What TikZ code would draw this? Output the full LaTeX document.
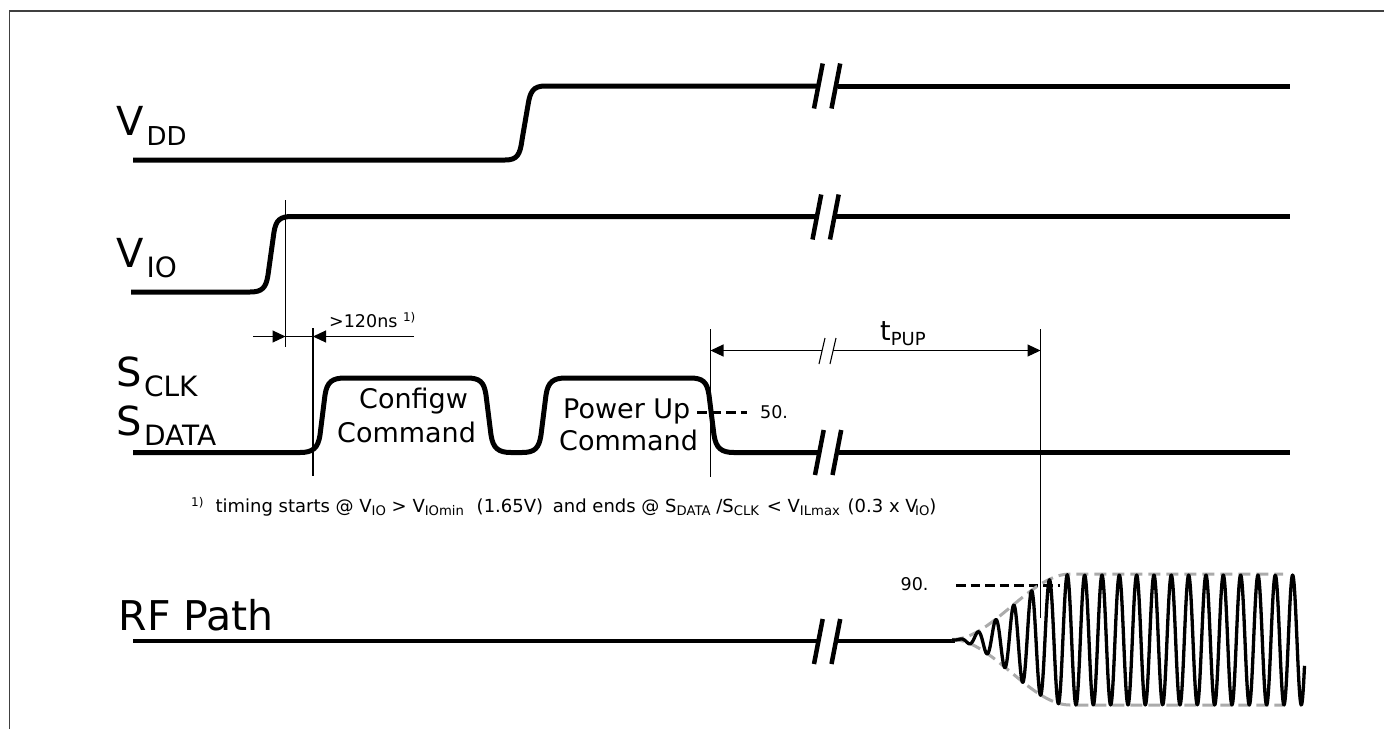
\documentclass[tikz,border=0pt]{standalone}
\usepackage{fontspec}
\setmainfont{DejaVu Sans}
\usetikzlibrary{arrows.meta}
\newcommand{\sigtxt}[3][28]{\fontsize{40}{40}\selectfont #2\hspace{2.5pt}\raisebox{-10.5pt}{\fontsize{#1}{#1}\selectfont #3}}
\newcommand{\smalltxt}{\fontsize{17.5}{20}\selectfont}
\newcommand{\notetxt}{\fontsize{18}{20}\selectfont}
\newcommand{\cmdtxt}{\fontsize{27}{30}\selectfont}
\newcommand{\fnsub}[1]{\raisebox{-3.5pt}{\fontsize{13.2}{14}\selectfont #1}}
\newcommand{\fnsup}{\raisebox{5.5pt}{\fontsize{12}{12}\selectfont 1)}}
\tikzset{
  sigline/.style={line width=5pt},
  breakbar/.style={line width=4.5pt},
  rfline/.style={line width=3.6pt},
  waveline/.style={line width=3.3pt,line join=round},
  envline/.style={line width=3pt,draw=black!33,dash pattern=on 12pt off 6pt},
  levelmark/.style={line width=3pt,dash pattern=on 9.5pt off 5pt},
  dimline/.style={line width=1.1pt},
  dimarrow/.style={line width=1.1pt,-{Triangle[length=13pt,width=12pt]}},
  lbl/.style={inner sep=0pt,anchor=base west},
  declare function={rampt(\p)=(\p-952)/118; rampamp(\p)=65.5*rampt(\p)*rampt(\p)*(3-2*rampt(\p));}
}
\begin{document}
\begin{tikzpicture}[x=1pt,y=-1pt]
\useasboundingbox (0,0) rectangle (1384,729);
\draw[line width=1.4pt,black!75] (9.5,729) -- (9.5,11) -- (1384,11);
% signal names
\node[lbl] (vdd) at (116.5,135) {\sigtxt[26]{V}{DD}};
\node[lbl] (vio) at (116.5,267) {\sigtxt{V}{IO}};
\node[lbl] (sclk) at (116,386) {\sigtxt{S}{CLK}};
\node[lbl] (sdata) at (116,435) {\sigtxt{S}{DATA}};
\node[lbl] (rfpath) at (118.5,630) {\fontsize{41}{41}\selectfont RF Path};
% supply and bus traces
\draw[sigline] (133,160) -- (505,160) .. controls (517,160) and (520,155) .. (522,140) -- (528,105) .. controls (530,92) and (533,86) .. (545,86) -- (817,86);
\draw[sigline] (838,86) -- (1290,86);
\draw[sigline] (131,292) -- (250,292) .. controls (262,292) and (266,288) .. (268,275) -- (274,232) .. controls (276,220) and (280,216.5) .. (292,216.5) -- (815,216.5);
\draw[sigline] (836,216.5) -- (1290,216.5);
\draw[sigline] (133,452.5) -- (300,452.5) .. controls (313,452.5) and (318,448) .. (320,435) -- (325,395) .. controls (327,382) and (332,378) .. (345,378)
  -- (467,378) .. controls (480,378) and (484,382) .. (486,395) -- (491,435) .. controls (493,448) and (498,452.5) .. (511,452.5)
  -- (522,452.5) .. controls (535,452.5) and (539,448) .. (541,435) -- (546,395) .. controls (548,382) and (553,378) .. (566,378)
  -- (690,378) .. controls (703,378) and (707,382) .. (709,395) -- (714,435) .. controls (716,448) and (721,452.5) .. (734,452.5) -- (818,452.5);
\draw[sigline] (839,452.5) -- (1290,452.5);
\draw[rfline] (133,641) -- (817,641);
\draw[rfline] (838,641) -- (955,641);
% break marks
\foreach \bx/\by in {814/86,812.5/217,815/452.5,814/641.5}{
  \draw[breakbar] (\bx,\by+22.5) -- (\bx+8.7,\by-22.5);
  \draw[breakbar] (\bx+17.5,\by+22.5) -- (\bx+26.2,\by-22.5);
}
% command labels
\node[lbl] (cfga) at (359,408) {\cmdtxt Configw};
\node[lbl] (cfgb) at (337,442) {\cmdtxt Command};
\node[lbl] (pwra) at (563,418) {\cmdtxt Power Up};
\node[lbl] (pwrb) at (559,450) {\cmdtxt Command};
% timing marks
\coordinate (t0top) at (285.5,200);
\coordinate (t0bot) at (285.5,347);
\coordinate (t1top) at (313,328);
\coordinate (t1bot) at (313,476);
\coordinate (t2top) at (710.5,329);
\coordinate (t2bot) at (710.5,477);
\coordinate (t3top) at (1040.5,329);
\coordinate (t3bot) at (1040.5,618);
\draw[dimline] (t0top) -- (t0bot);
\draw[dimline] (t1top) -- (t1bot);
\draw[dimline] (t2top) -- (t2bot);
\draw[dimline] (t3top) -- (t3bot);
\coordinate (a0) at (253,336.5);
\coordinate (a1) at (414,336.5);
\draw[dimarrow] (a0) -- (285.5,336.5);
\draw[dimarrow] (a1) -- (313,336.5);
\draw[dimline] (285.5,336.5) -- (313,336.5);
\node[lbl] (minsetup) at (329,327) {\smalltxt >120ns \fnsup};
\coordinate (p0) at (822,350.5);
\coordinate (p1) at (833,350.5);
\draw[dimarrow] (p0) -- (710.5,350.5);
\draw[dimarrow] (p1) -- (1040.5,350.5);
\draw[dimline] (819,364) -- (825,338);
\draw[dimline] (830,364) -- (836,338);
\node[lbl] (tpup) at (880,340) {\fontsize{27}{30}\selectfont t\raisebox{-5pt}{\fontsize{18}{20}\selectfont PUP}};
% footnote
\node[lbl] (note) at (191,512) {\notetxt \fnsup\hspace{12pt}timing starts @ V\fnsub{IO} > V\fnsub{IOmin}\hspace{7pt} (1.65V)\hspace{4pt} and ends @ S\fnsub{DATA} /S\fnsub{CLK}\hspace{2pt} < V\fnsub{ILmax}\hspace{2pt} (0.3 x V\hspace{-2.5pt}\fnsub{IO})};
% levels
\node[lbl] (lev50) at (760,418) {\smalltxt 50.};
\coordinate (m50a) at (697,412);
\coordinate (m50b) at (747,412);
\draw[levelmark] (m50a) -- (m50b);
\node[lbl] (lev90) at (900.5,590) {\smalltxt 90.};
\coordinate (m90a) at (956,585);
\coordinate (m90b) at (1060,585);
\draw[levelmark] (m90a) -- (m90b);
% rf envelope
\draw[envline] plot[domain=952:1070,samples=40] ({\x},{639.5-rampamp(\x)}) -- (1283,574);
\draw[envline] plot[domain=952:1070,samples=40] ({\x},{639.5+rampamp(\x)}) -- (1283,705);
% rf carrier
\draw[waveline] plot[domain=952:1067.33,samples=260] ({\x},{640-rampamp(\x)*cos(20.112*(\x-1067.33))})
  -- plot[domain=1067.33:1304.5,samples=500] ({\x},{640-65*cos(20.773*(\x-1067.33))});
\end{tikzpicture}
\end{document}
